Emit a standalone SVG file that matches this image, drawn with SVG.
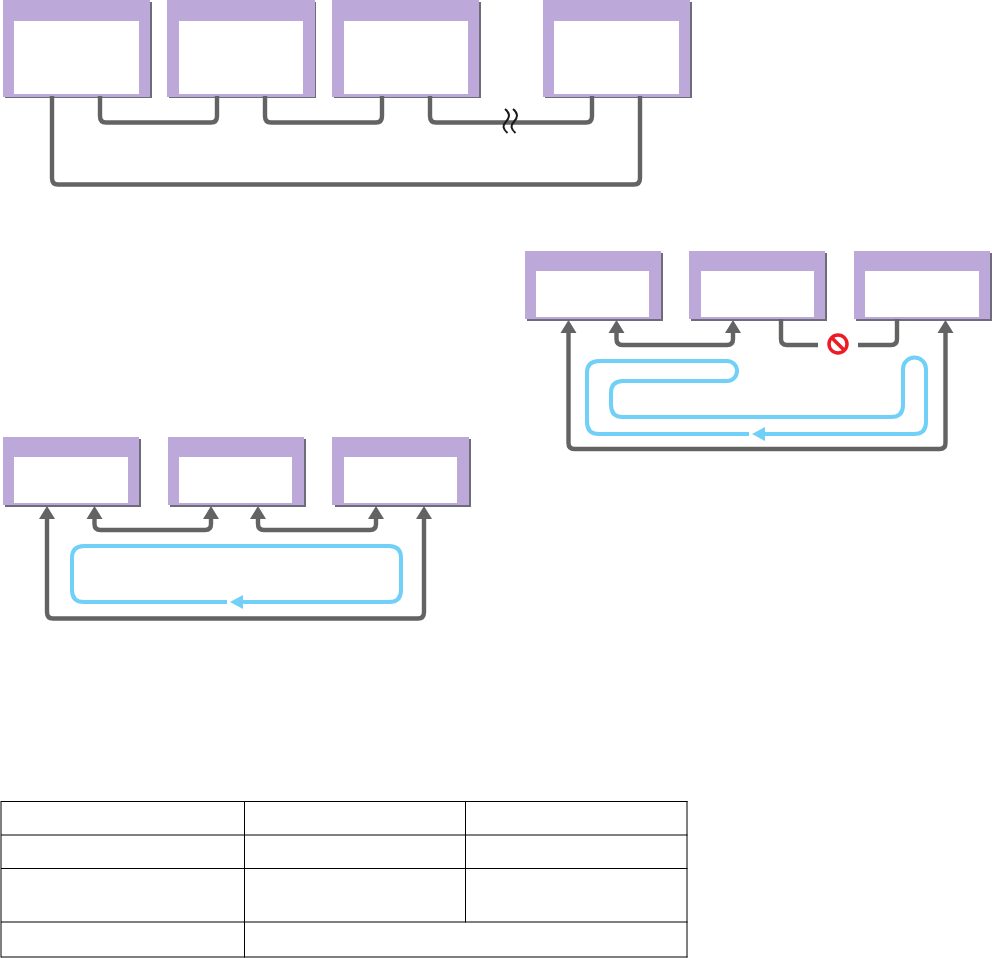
<svg xmlns="http://www.w3.org/2000/svg" width="992" height="958" viewBox="0 0 992 958">
<style>
.shadow{fill:#6d6c7a}
.frame{fill:#bca8d9}
.inner{fill:#fff}
.wire{fill:none;stroke:#636363;stroke-width:4.400}
.head{fill:#636363}
.flow{fill:none;stroke:#70d0f8;stroke-width:4}
.flowhead{fill:#70d0f8}
.grid{fill:none;stroke:#000;stroke-width:1}
.break{fill:none;stroke:#1a1a1a;stroke-width:2}
</style>
<rect width="992" height="958" fill="#fff"/>
<g id="top-box-1"><rect class="shadow" x="5" y="2" width="147" height="96"/><rect class="frame" x="3" y="0" width="147" height="97"/><rect class="inner" x="14" y="21" width="125" height="73"/></g>
<g id="top-box-2"><rect class="shadow" x="169" y="2" width="147" height="96"/><rect class="frame" x="167" y="0" width="148" height="97"/><rect class="inner" x="179" y="21" width="124" height="73"/></g>
<g id="top-box-3"><rect class="shadow" x="334" y="2" width="147" height="96"/><rect class="frame" x="332" y="0" width="147" height="97"/><rect class="inner" x="344" y="21" width="124" height="73"/></g>
<g id="top-box-4"><rect class="shadow" x="545" y="2" width="147" height="96"/><rect class="frame" x="543" y="0" width="147" height="97"/><rect class="inner" x="554" y="21" width="125" height="73"/></g>
<g id="right-box-1"><rect class="shadow" x="527" y="253" width="136" height="68"/><rect class="frame" x="525" y="251" width="136" height="68"/><rect class="inner" x="536" y="271" width="113" height="46"/></g>
<g id="right-box-2"><rect class="shadow" x="691" y="253" width="136" height="68"/><rect class="frame" x="689" y="251" width="136" height="68"/><rect class="inner" x="701" y="271" width="113" height="46"/></g>
<g id="right-box-3"><rect class="shadow" x="856" y="253" width="136" height="68"/><rect class="frame" x="854" y="251" width="136" height="68"/><rect class="inner" x="865" y="271" width="114" height="46"/></g>
<g id="left-box-1"><rect class="shadow" x="5" y="439" width="136" height="68"/><rect class="frame" x="3" y="437" width="136" height="68"/><rect class="inner" x="14" y="457" width="114" height="46"/></g>
<g id="left-box-2"><rect class="shadow" x="170" y="439" width="136" height="68"/><rect class="frame" x="168" y="437" width="136" height="68"/><rect class="inner" x="179" y="457" width="113" height="46"/></g>
<g id="left-box-3"><rect class="shadow" x="335" y="439" width="136" height="68"/><rect class="frame" x="332" y="437" width="137" height="68"/><rect class="inner" x="344" y="457" width="113" height="46"/></g>
<g id="connectors">
<path class="wire" d="M52 96V178Q52 184.500 58 184.500H634Q640 184.500 640 178V96"/>
<path class="wire" d="M100 96V116Q100 122.500 106 122.500H211Q217 122.500 217 116V96"/>
<path class="wire" d="M265 96V116Q265 122.500 271 122.500H376Q382 122.500 382 116V96"/>
<path class="wire" d="M430 96V116Q430 122.500 436 122.500H586Q592 122.500 592 116V96"/>
<path class="break" d="M505 109C510 113 510 117 506.500 121C502 126 503 129 507.500 133M513 109C518 113 518 117 514.500 121C510 126 511 129 515.500 133"/>
<path class="wire" d="M568.500 330V443Q568.500 449 574.500 449H939.500Q945.500 449 945.500 443V330"/>
<path class="wire" d="M616.500 330V339Q616.500 345 622.500 345H727Q733 345 733 339V330"/>
<path class="wire" d="M781 319V339Q781 345 787 345H818"/>
<path class="wire" d="M858 345H891Q897 345 897 339V319"/>
<path class="head" d="M568.500 320l8 13h-16zM616.500 320l8 13h-16zM733 320l8 13h-16zM945.500 320l8 13h-16z"/>
<path class="flow" d="M749 434H599Q587 434 587 422V373Q587 361 599 361H727A10 10 0 0 1 727 381H623Q611 381 611 393V405Q611 417 623 417H891Q903 417 903 405V369A11.500 11.500 0 0 1 926 369V422Q926 434 914 434H764"/>
<path class="flowhead" d="M752 434l13-7v14z"/>
<path class="wire" d="M47 516V612Q47 618.500 53 618.500H418Q424 618.500 424 612V516"/>
<path class="wire" d="M94.500 516V524Q94.500 530 100.500 530H205Q211 530 211 524V516"/>
<path class="wire" d="M258 516V524Q258 530 264 530H370Q376 530 376 524V516"/>
<path class="head" d="M47 506l8 13h-16zM94.500 506l8 13h-16zM211 506l8 13h-16zM258 506l8 13h-16zM376 506l8 13h-16zM424 506l8 13h-16z"/>
<path class="flow" d="M227 602H84Q72 602 72 590V558Q72 546 84 546H389Q401 546 401 558V590Q401 602 389 602H242"/>
<path class="flowhead" d="M230 602l13-7v14z"/>
</g>
<g id="prohibited-icon"><circle cx="838" cy="344" r="9" fill="#fff" stroke="#ed1c24" stroke-width="3.500"/><path d="M832 338L844 350" stroke="#ed1c24" stroke-width="3.500"/></g>
<g id="table"><path class="grid" d="M1 801.500H687.500M1 835H687.500M1 868.500H687.500M1 922H687.500M1 957H687.500M1 801V957.500M244.500 801V957.500M465.500 801V922.500M687 801V957.500"/></g>
</svg>
